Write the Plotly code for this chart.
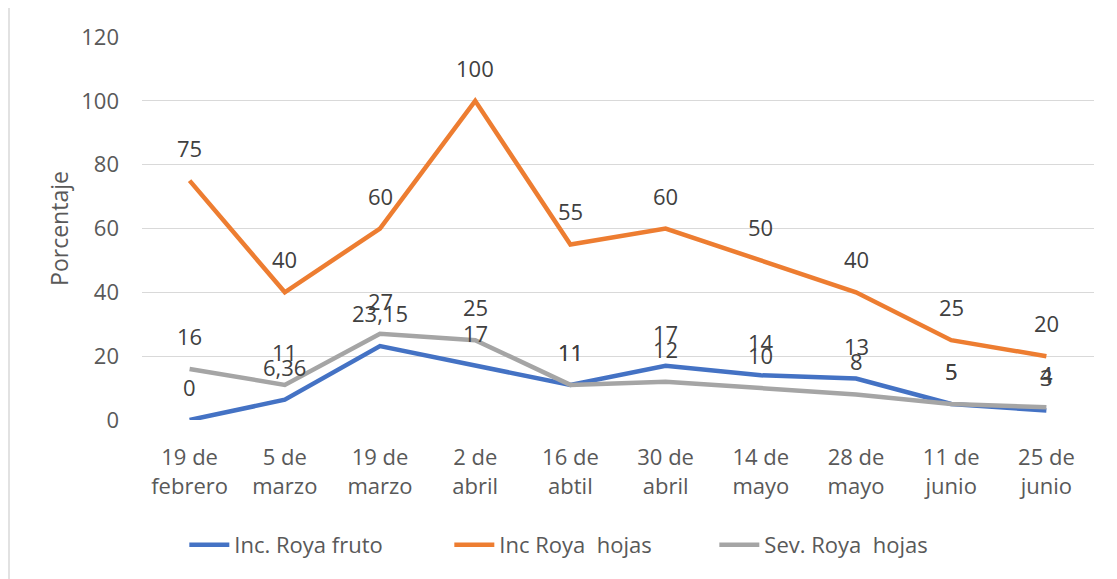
import plotly.graph_objects as go

fechas = ["19 de<br>febrero", "5 de<br>marzo", "19 de<br>marzo", "2 de<br>abril", "16 de<br>abtil",
          "30 de<br>abril", "14 de<br>mayo", "28 de<br>mayo", "11 de<br>junio", "25 de<br>junio"]
inc_fruto = [0, 6.36, 23.15, 17, 11, 17, 14, 13, 5, 3]
inc_hojas = [75, 40, 60, 100, 55, 60, 50, 40, 25, 20]
sev_hojas = [16, 11, 27, 25, 11, 12, 10, 8, 5, 4]
y_ticks = [0, 20, 40, 60, 80, 100, 120]

series = [
    ("Inc. Roya fruto", inc_fruto, "#4472C4"),
    ("Inc Roya  hojas", inc_hojas, "#ED7D31"),
    ("Sev. Roya  hojas", sev_hojas, "#A5A5A5"),
]

def fmt(v):
    # formato con coma decimal como en el original
    return str(v).replace(".", ",")

fig = go.Figure()
annots = []
for name, vals, color in series:
    fig.add_trace(go.Scatter(x=list(range(len(fechas))), y=vals, name=name, mode="lines",
                             line=dict(color=color, width=4.5)))
    for i, v in enumerate(vals):
        annots.append(dict(x=i, y=v, text=fmt(v), showarrow=False, yshift=33,
                           font=dict(size=22, color="#404040")))

# la pagina agrega 8px de margen, por eso 1109x571
fig.update_layout(
    width=1109, height=571,
    margin=dict(l=134, r=23, t=29, b=159),
    plot_bgcolor="white", paper_bgcolor="white",
    font=dict(family="Open Sans", color="#595959"),
    annotations=annots,
    showlegend=True,
    legend=dict(orientation="h", x=0.462, xanchor="center", y=-0.326, yanchor="middle",
                font=dict(size=22, color="#595959"), entrywidth=210, itemwidth=40),
    xaxis=dict(range=[-0.5, len(fechas) - 0.5], tickmode="array",
               tickvals=list(range(len(fechas))), ticktext=fechas,
               tickfont=dict(size=22), showgrid=False, zeroline=False,
               showline=False, ticklabelstandoff=22),
    yaxis=dict(range=[0, 120], tickvals=y_ticks, tickfont=dict(size=22),
               gridcolor="#D9D9D9", gridwidth=1.2, zeroline=False,
               ticklabelstandoff=22,
               title=dict(text="Porcentaje", font=dict(size=23), standoff=6)),
    shapes=[dict(type="rect", xref="paper", yref="paper", x0=-0.1397, x1=1.05,
                 y0=-0.45, y1=1.0783, line=dict(color="#D9D9D9", width=1.5))],
)

fig.write_html("out.html")
